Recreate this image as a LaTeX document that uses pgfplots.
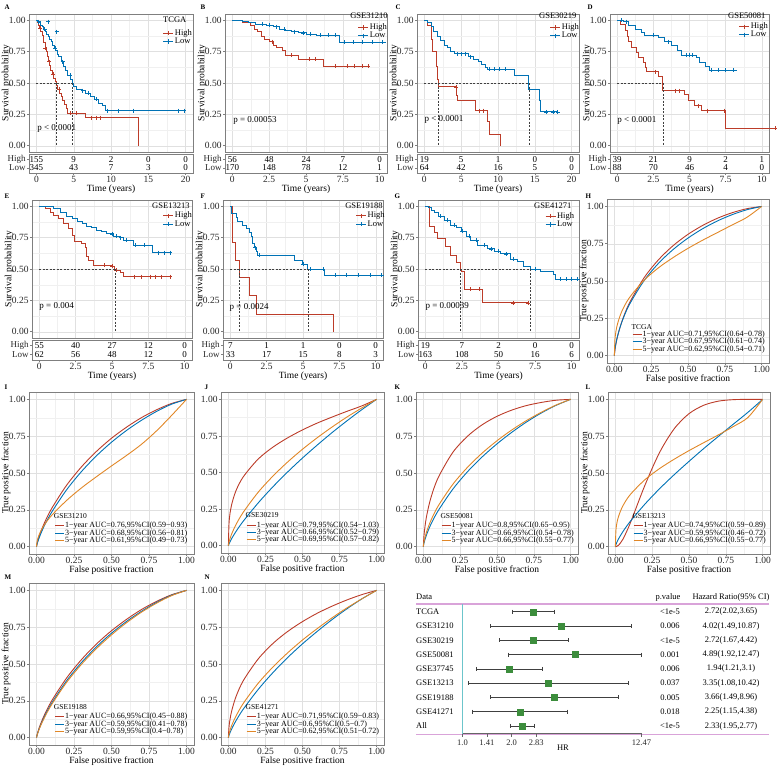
\documentclass[border=0pt]{standalone}
\usepackage{fontspec}
\setmainfont{Liberation Serif}
\usepackage{pgfplots}
\pgfplotsset{compat=1.18}
\definecolor{cR}{HTML}{BC3C29}
\definecolor{cB}{HTML}{0072B5}
\definecolor{cO}{HTML}{E18727}
\definecolor{cG}{HTML}{3C8D3C}
\definecolor{cPink}{HTML}{D9A3D9}
\definecolor{cCyan}{HTML}{6CC5CB}
\definecolor{frame}{HTML}{7F7F7F}
\newcommand\fs[1]{\fontsize{#1}{#1}\selectfont}
\newcommand\rk[3]{\node[font=\fs{9}] at (axis cs:#1,#2) {#3};}
\newcommand\lbl[2]{\node[font=\bfseries\fs{7}, anchor=north west] at (#1) {#2};}
\pgfplotsset{
 base/.style={scale only axis, anchor=north west, clip mode=individual,
  axis line style={frame, line width=0.6pt},
  every tick/.style={frame, line width=0.5pt},
  major tick length=2pt, minor tick length=0pt, tick align=outside,
  xtick pos=bottom, ytick pos=left,
  ticklabel style={font=\fs{9.5}, text=black!85},
  yticklabel style={inner sep=1.2pt}, xticklabel style={inner sep=1.2pt},
  label style={font=\fs{9.5}},
  ylabel style={at={(axis description cs:0,0.5)}, anchor=center, yshift=23pt},
  /pgf/number format/assume math mode=true,
  legend cell align=left,
  legend style={draw=none, fill=none, inner sep=0pt, outer sep=0pt, row sep=-1pt}},
 gridded/.style={grid=both, minor tick num=1,
  major grid style={black!12, line width=0.45pt},
  minor grid style={black!6, line width=0.3pt}},
 probticks/.style={ytick={0,0.25,0.5,0.75,1}, yticklabels={0.00,0.25,0.50,0.75,1.00}},
 km/.style={base, gridded, probticks, height=138pt, ymin=-0.05, ymax=1.05, clip=false,
  xticklabels={}, xtick style={draw=none},
  ylabel={Survival probability},
  legend style={font=\fs{8.5}, nodes={inner sep=1pt}},
  legend image code/.code={\draw[mark repeat=2,mark phase=2,#1] plot coordinates {(0pt,0pt) (5pt,0pt) (10pt,0pt)};}},
 risk/.style={base, ymin=0, ymax=1, ytick={0.27,0.73}, yticklabels={Low,High},
  yticklabel style={font=\fs{9}},
  xlabel={Time (years)}, xlabel style={inner sep=1pt}},
 roc/.style={base, gridded, probticks, xmin=-0.05, xmax=1.05, ymin=-0.05, ymax=1.05,
  xtick={0,0.25,0.5,0.75,1}, xticklabels={0.00,0.25,0.50,0.75,1.00},
  xlabel={False positive fraction}, xlabel style={inner sep=1pt},
  legend style={font=\fs{8}, at={(rel axis cs:0.155,0.2)}, anchor=north west, nodes={inner sep=0.7pt}},
  legend image code/.code={\draw[#1] (0pt,0pt) -- (9pt,0pt);}},
 kmR/.style={cR, line width=0.9pt, const plot, forget plot},
 kmB/.style={cB, line width=0.9pt, const plot, forget plot},
 cenR/.style={cR, only marks, mark=+, mark size=2pt, line width=0.5pt, forget plot},
 cenB/.style={cB, only marks, mark=+, mark size=2pt, line width=0.5pt, forget plot},
 med/.style={black!75, line width=0.5pt, dash pattern=on 2pt off 1.5pt, forget plot},
 rR/.style={cR, line width=0.9pt, smooth, tension=0.5},
 rB/.style={cB, line width=0.9pt, smooth, tension=0.5},
 rO/.style={cO, line width=0.9pt, smooth, tension=0.5},
 legR/.style={cR, line width=0.9pt, mark=+, mark size=2.2pt},
 legB/.style={cB, line width=0.9pt, mark=+, mark size=2.2pt},
}
\begin{document}
\begin{tikzpicture}[x=1pt,y=1pt]
\path[use as bounding box] (0,0) rectangle (777,-771);

% ================= A
\lbl{1pt,-1pt}{A}
\begin{axis}[km, at={(29pt,-14pt)}, width=164pt, xmin=-1, xmax=21, xtick={0,5,10,15,20},
  legend style={at={(rel axis cs:0.817,0.895)}, anchor=north west}]
\addlegendimage{legR}\addlegendentry{High}
\addlegendimage{legB}\addlegendentry{Low}
\addplot[kmR] coordinates {(0,1) (0.15,0.98) (0.3,0.96) (0.45,0.94) (0.6,0.91) (0.75,0.88) (0.9,0.85) (1.0,0.82) (1.15,0.78) (1.3,0.75) (1.45,0.71) (1.6,0.67) (1.75,0.64) (1.9,0.60) (2.1,0.57) (2.3,0.54) (2.5,0.51) (2.65,0.48) (2.85,0.45) (3.05,0.42) (3.3,0.39) (3.55,0.36) (3.8,0.33) (4.0,0.30) (4.2,0.26) (6.6,0.225) (13.7,0)};
\addplot[kmB] coordinates {(0,1) (0.2,0.99) (0.4,0.98) (0.6,0.96) (0.8,0.95) (1.0,0.93) (1.2,0.91) (1.4,0.89) (1.6,0.87) (1.8,0.85) (2.0,0.83) (2.2,0.80) (2.4,0.78) (2.6,0.76) (2.8,0.73) (3.0,0.71) (3.3,0.67) (3.6,0.63) (3.9,0.60) (4.2,0.56) (4.5,0.53) (4.8,0.50) (5.0,0.47) (5.4,0.45) (6.0,0.44) (6.6,0.42) (7.3,0.39) (7.8,0.37) (8.3,0.34) (8.8,0.32) (9.3,0.28) (19.8,0.28)};
\addplot[cenR] coordinates {(0.5,0.94) (1.2,0.78) (1.7,0.67) (2.2,0.57) (3.0,0.45) (4.6,0.26) (5.3,0.26) (7.3,0.225) (8.0,0.225) (8.6,0.225)};
\addplot[cenB] coordinates {(0.3,0.99) (1.1,0.93) (1.6,0.99) (2.5,0.78) (2.7,0.91) (3.5,0.67) (4.5,0.56) (6.2,0.44) (7.0,0.42) (8.0,0.37) (9.5,0.28) (11,0.28) (13,0.28) (19,0.28) (19.8,0.28)};
\addplot[med] coordinates {(0,0.5) (4.8,0.5)};
\addplot[med] coordinates {(2.6,0.5) (2.6,0)};
\addplot[med] coordinates {(4.8,0.5) (4.8,0)};
\node[anchor=west, font=\fs{8.5}, inner sep=0pt] at (rel axis cs:0.817,0.957) {TCGA};
\node[anchor=west, font=\fs{9}, inner sep=0pt] at (axis cs:0.1,0.14) {p < 0.0001};
\end{axis}
\begin{axis}[risk, at={(29pt,-154pt)}, width=164pt, height=19pt, xmin=-1, xmax=21, xtick={0,5,10,15,20}, xticklabels={0,5,10,15,20}]
\rk{0}{0.73}{155}\rk{5}{0.73}{9}\rk{10}{0.73}{2}\rk{15}{0.73}{0}\rk{20}{0.73}{0}
\rk{0}{0.27}{345}\rk{5}{0.27}{43}\rk{10}{0.27}{7}\rk{15}{0.27}{3}\rk{20}{0.27}{0}
\end{axis}

% ================= B
\lbl{197pt,-1pt}{B}
\begin{axis}[km, at={(225pt,-14pt)}, width=162pt, xmin=-0.5, xmax=10.5, xtick={0,2.5,5,7.5,10},
  legend style={at={(rel axis cs:0.821,0.935)}, anchor=north west}]
\addlegendimage{legR}\addlegendentry{High}
\addlegendimage{legB}\addlegendentry{Low}
\addplot[kmR] coordinates {(0,1) (0.7,0.98) (1.2,0.96) (1.5,0.93) (1.7,0.91) (2.0,0.87) (2.2,0.85) (2.5,0.83) (2.8,0.80) (3.0,0.78) (3.4,0.76) (3.6,0.72) (4.5,0.69) (6.2,0.635) (9.3,0.635)};
\addplot[kmB] coordinates {(0,1) (0.7,0.99) (1.1,0.98) (1.6,0.97) (2.3,0.96) (2.8,0.95) (3.2,0.93) (3.6,0.92) (4.0,0.91) (4.5,0.90) (5.0,0.89) (5.7,0.88) (7.3,0.825) (10.4,0.825)};
\addplot[cenR] coordinates {(2.7,0.83) (4.0,0.72) (5.2,0.69) (5.6,0.69) (7.0,0.635) (7.8,0.635) (8.3,0.635) (8.8,0.635) (9.2,0.635)};
\addplot[cenB] coordinates {(2.0,0.97) (2.5,0.96) (3.0,0.95) (3.5,0.93) (4.2,0.91) (4.8,0.90) (5.3,0.89) (6.0,0.88) (6.5,0.88) (7.0,0.88) (7.6,0.825) (8.2,0.825) (8.8,0.825) (9.5,0.825) (10.2,0.825)};
\node[anchor=west, font=\fs{8.5}, inner sep=0pt] at (rel axis cs:0.772,0.986) {GSE31210};
\node[anchor=west, font=\fs{9}, inner sep=0pt] at (axis cs:0.05,0.2) {p = 0.00053};
\end{axis}
\begin{axis}[risk, at={(225pt,-154pt)}, width=162pt, height=19pt, xmin=-0.5, xmax=10.5, xtick={0,2.5,5,7.5,10}, xticklabels={0,2.5,5,7.5,10}]
\rk{0}{0.73}{56}\rk{2.5}{0.73}{48}\rk{5}{0.73}{24}\rk{7.5}{0.73}{7}\rk{10}{0.73}{0}
\rk{0}{0.27}{170}\rk{2.5}{0.27}{148}\rk{5}{0.27}{78}\rk{7.5}{0.27}{12}\rk{10}{0.27}{1}
\end{axis}

% ================= C
\lbl{392pt,-1pt}{C}
\begin{axis}[km, at={(417pt,-14pt)}, width=162pt, xmin=-1, xmax=21, xtick={0,5,10,15,20},
  legend style={at={(rel axis cs:0.821,0.935)}, anchor=north west}]
\addlegendimage{legR}\addlegendentry{High}
\addlegendimage{legB}\addlegendentry{Low}
\addplot[kmR] coordinates {(0,1) (0.45,0.96) (0.9,0.85) (1.1,0.75) (1.6,0.73) (1.7,0.63) (1.8,0.53) (1.95,0.47) (4.3,0.40) (4.5,0.36) (7.0,0.28) (8.6,0.19) (8.8,0.09) (10.4,0)};
\addplot[kmB] coordinates {(0,1) (0.4,0.98) (0.9,0.95) (1.3,0.91) (1.8,0.87) (2.2,0.84) (2.7,0.80) (3.1,0.78) (3.6,0.75) (4.1,0.735) (6.0,0.71) (6.6,0.69) (7.3,0.67) (7.8,0.645) (8.3,0.62) (8.5,0.61) (12.2,0.56) (14.2,0.45) (15.6,0.36) (15.8,0.27) (18.1,0.27)};
\addplot[cenR] coordinates {(4.3,0.47) (7.5,0.28) (8.0,0.28)};
\addplot[cenB] coordinates {(4.5,0.735) (5.0,0.735) (5.5,0.735) (6.2,0.71) (8.8,0.61) (9.5,0.61) (10.2,0.61) (11,0.61) (14.3,0.45) (16.5,0.27) (17.5,0.27) (18.1,0.27)};
\addplot[med] coordinates {(0,0.5) (14.2,0.5)};
\addplot[med] coordinates {(1.95,0.5) (1.95,0)};
\addplot[med] coordinates {(14.2,0.5) (14.2,0)};
\node[anchor=west, font=\fs{8.5}, inner sep=0pt] at (rel axis cs:0.753,0.986) {GSE30219};
\node[anchor=west, font=\fs{9}, inner sep=0pt] at (axis cs:0,0.21) {p < 0.0001};
\end{axis}
\begin{axis}[risk, at={(417pt,-154pt)}, width=162pt, height=19pt, xmin=-1, xmax=21, xtick={0,5,10,15,20}, xticklabels={0,5,10,15,20}]
\rk{0}{0.73}{19}\rk{5}{0.73}{5}\rk{10}{0.73}{1}\rk{15}{0.73}{0}\rk{20}{0.73}{0}
\rk{0}{0.27}{64}\rk{5}{0.27}{42}\rk{10}{0.27}{16}\rk{15}{0.27}{5}\rk{20}{0.27}{0}
\end{axis}

% ================= D
\lbl{584pt,-1pt}{D}
\begin{axis}[km, at={(610pt,-14pt)}, width=159pt, xmin=-0.5, xmax=10.5, xtick={0,2.5,5,7.5,10},
  legend style={at={(rel axis cs:0.811,0.942)}, anchor=north west}]
\addlegendimage{legR}\addlegendentry{High}
\addlegendimage{legB}\addlegendentry{Low}
\addplot[kmR] coordinates {(0,1) (0.23,0.97) (0.57,0.92) (0.7,0.87) (0.8,0.83) (1.0,0.78) (1.36,0.74) (1.5,0.70) (1.8,0.66) (1.95,0.62) (2.05,0.59) (2.85,0.55) (3.1,0.50) (3.15,0.44) (4.65,0.41) (4.9,0.36) (5.35,0.32) (5.8,0.28) (7.5,0.14) (10.9,0.14)};
\addplot[kmB] coordinates {(0,1) (0.45,0.99) (0.8,0.96) (1.25,0.93) (1.7,0.90) (1.9,0.88) (2.85,0.86) (3.3,0.83) (3.75,0.80) (4.2,0.76) (4.45,0.72) (5.45,0.70) (5.7,0.66) (6.1,0.63) (6.35,0.60) (8.3,0.60)};
\addplot[cenR] coordinates {(2.6,0.59) (4.0,0.44) (4.3,0.44) (5.6,0.32) (6.2,0.28) (7.4,0.28) (10.9,0.14)};
\addplot[cenB] coordinates {(0.3,1.0) (0.6,0.99) (2.5,0.88) (3.5,0.83) (4.8,0.72) (5.0,0.72) (5.2,0.72) (6.5,0.60) (7.0,0.60) (7.5,0.60) (8.0,0.60)};
\addplot[med] coordinates {(0,0.5) (3.15,0.5)};
\addplot[med] coordinates {(3.15,0.5) (3.15,0)};
\node[anchor=west, font=\fs{8.5}, inner sep=0pt] at (rel axis cs:0.742,0.986) {GSE50081};
\node[anchor=west, font=\fs{9}, inner sep=0pt] at (axis cs:0,0.2) {p < 0.0001};
\end{axis}
\begin{axis}[risk, at={(610pt,-154pt)}, width=159pt, height=19pt, xmin=-0.5, xmax=10.5, xtick={0,2.5,5,7.5,10}, xticklabels={0,2.5,5,7.5,10}]
\rk{0}{0.73}{39}\rk{2.5}{0.73}{21}\rk{5}{0.73}{9}\rk{7.5}{0.73}{2}\rk{10}{0.73}{1}
\rk{0}{0.27}{88}\rk{2.5}{0.27}{70}\rk{5}{0.27}{46}\rk{7.5}{0.27}{4}\rk{10}{0.27}{0}
\end{axis}

% ================= E
\lbl{1pt,-190pt}{E}
\begin{axis}[km, at={(32pt,-200pt)}, width=160pt, xmin=-0.5, xmax=10.5, xtick={0,2.5,5,7.5,10},
  legend style={at={(rel axis cs:0.819,0.92)}, anchor=north west}]
\addlegendimage{legR}\addlegendentry{High}
\addlegendimage{legB}\addlegendentry{Low}
\addplot[kmR] coordinates {(0,1) (0.4,0.98) (0.75,0.95) (1.0,0.93) (1.3,0.90) (1.65,0.86) (2.0,0.82) (2.25,0.77) (2.45,0.72) (2.9,0.70) (3.15,0.67) (3.25,0.60) (3.4,0.57) (3.7,0.53) (4.95,0.52) (5.2,0.49) (5.55,0.47) (5.8,0.44) (9.0,0.44)};
\addplot[kmB] coordinates {(0,1) (1.0,0.98) (1.45,0.95) (1.9,0.92) (2.3,0.90) (2.6,0.88) (3.0,0.86) (3.25,0.84) (3.6,0.83) (3.95,0.81) (4.3,0.80) (4.6,0.78) (5.1,0.76) (5.5,0.75) (5.8,0.73) (6.45,0.69) (7.8,0.63) (9.0,0.63)};
\addplot[cenR] coordinates {(4.5,0.53) (5.0,0.52) (5.3,0.49) (6.5,0.44) (7.0,0.44) (7.6,0.44) (8.0,0.44) (8.4,0.44) (9.0,0.44)};
\addplot[cenB] coordinates {(5.0,0.78) (5.3,0.76) (5.6,0.75) (6.0,0.73) (6.6,0.69) (7.2,0.69) (8.2,0.63) (8.6,0.63) (9.0,0.63)};
\addplot[med] coordinates {(0,0.5) (5.2,0.5)};
\addplot[med] coordinates {(5.2,0.5) (5.2,0)};
\node[anchor=west, font=\fs{8.5}, inner sep=0pt] at (rel axis cs:0.75,0.957) {GSE13213};
\node[anchor=west, font=\fs{9}, inner sep=0pt] at (axis cs:0,0.2) {p = 0.004};
\end{axis}
\begin{axis}[risk, at={(32pt,-340pt)}, width=160pt, height=20pt, xmin=-0.5, xmax=10.5, xtick={0,2.5,5,7.5,10}, xticklabels={0,2.5,5,7.5,10}]
\rk{0}{0.73}{55}\rk{2.5}{0.73}{40}\rk{5}{0.73}{27}\rk{7.5}{0.73}{12}\rk{10}{0.73}{0}
\rk{0}{0.27}{62}\rk{2.5}{0.27}{56}\rk{5}{0.27}{48}\rk{7.5}{0.27}{12}\rk{10}{0.27}{0}
\end{axis}

% ================= F
\lbl{197pt,-190pt}{F}
\begin{axis}[km, at={(223pt,-200pt)}, width=160pt, xmin=-0.5, xmax=10.5, xtick={0,2.5,5,7.5,10},
  legend style={at={(rel axis cs:0.83,0.92)}, anchor=north west}]
\addlegendimage{legR}\addlegendentry{High}
\addlegendimage{legB}\addlegendentry{Low}
\addplot[kmR] coordinates {(0,1) (0.15,0.71) (0.35,0.57) (0.6,0.43) (1.3,0.29) (1.8,0.14) (7.1,0)};
\addplot[kmB] coordinates {(0,1) (0.07,0.94) (0.4,0.91) (0.5,0.88) (0.85,0.85) (1.1,0.82) (1.3,0.79) (1.45,0.76) (1.55,0.70) (1.65,0.67) (1.8,0.64) (1.9,0.61) (4.4,0.57) (4.95,0.54) (5.3,0.50) (6.5,0.45) (10.4,0.45)};
\addplot[cenB] coordinates {(1.7,0.67) (2.0,0.61) (5.0,0.54) (5.5,0.50) (6.4,0.50) (7.2,0.45) (8.0,0.45) (8.8,0.45) (9.6,0.45) (10.4,0.45)};
\addplot[med] coordinates {(0,0.5) (5.35,0.5)};
\addplot[med] coordinates {(0.6,0.5) (0.6,0)};
\addplot[med] coordinates {(5.35,0.5) (5.35,0)};
\node[anchor=west, font=\fs{8.5}, inner sep=0pt] at (rel axis cs:0.763,0.957) {GSE19188};
\node[anchor=west, font=\fs{9}, inner sep=0pt] at (axis cs:-0.05,0.19) {p = 0.0024};
\end{axis}
\begin{axis}[risk, at={(223pt,-340pt)}, width=160pt, height=20pt, xmin=-0.5, xmax=10.5, xtick={0,2.5,5,7.5,10}, xticklabels={0,2.5,5,7.5,10}]
\rk{0}{0.73}{7}\rk{2.5}{0.73}{1}\rk{5}{0.73}{1}\rk{7.5}{0.73}{0}\rk{10}{0.73}{0}
\rk{0}{0.27}{33}\rk{2.5}{0.27}{17}\rk{5}{0.27}{15}\rk{7.5}{0.27}{8}\rk{10}{0.27}{3}
\end{axis}

% ================= G
\lbl{391pt,-190pt}{G}
\begin{axis}[km, at={(418pt,-200pt)}, width=161pt, xmin=-0.5, xmax=10.5, xtick={0,2.5,5,7.5,10},
  legend style={at={(rel axis cs:0.79,0.917)}, anchor=north west}]
\addlegendimage{legR}\addlegendentry{High}
\addlegendimage{legB}\addlegendentry{Low}
\addplot[kmR] coordinates {(0,1) (0.3,0.84) (0.63,0.79) (0.85,0.74) (1.4,0.68) (1.75,0.61) (2.1,0.55) (2.4,0.50) (2.45,0.48) (2.7,0.34) (3.9,0.23) (7.0,0.23)};
\addplot[kmB] coordinates {(0,1) (0.2,0.99) (0.4,0.97) (0.63,0.95) (0.9,0.92) (1.3,0.89) (1.75,0.85) (2.1,0.83) (2.45,0.80) (2.8,0.76) (3.1,0.73) (3.55,0.69) (4.25,0.66) (4.7,0.64) (5.15,0.62) (5.8,0.58) (6.3,0.56) (6.7,0.52) (7.2,0.50) (7.85,0.48) (8.75,0.46) (8.9,0.42) (10.45,0.42)};
\addplot[cenR] coordinates {(3.1,0.34) (3.7,0.34) (6.0,0.23) (7.0,0.23)};
\addplot[cenB] coordinates {(1.0,0.92) (1.5,0.89) (2.0,0.85) (2.5,0.80) (3.0,0.76) (3.5,0.73) (4.0,0.69) (4.5,0.66) (5.0,0.64) (5.5,0.62) (6.0,0.58) (7.5,0.50) (9.2,0.42) (9.6,0.42) (10.0,0.42) (10.4,0.42)};
\addplot[med] coordinates {(0,0.5) (7.2,0.5)};
\addplot[med] coordinates {(2.4,0.5) (2.4,0)};
\addplot[med] coordinates {(7.2,0.5) (7.2,0)};
\node[anchor=west, font=\fs{8.5}, inner sep=0pt] at (rel axis cs:0.72,0.957) {GSE41271};
\node[anchor=west, font=\fs{9}, inner sep=0pt] at (axis cs:0,0.2) {p = 0.00039};
\end{axis}
\begin{axis}[risk, at={(418pt,-340pt)}, width=161pt, height=20pt, xmin=-0.5, xmax=10.5, xtick={0,2.5,5,7.5,10}, xticklabels={0,2.5,5,7.5,10}]
\rk{0}{0.73}{19}\rk{2.5}{0.73}{7}\rk{5}{0.73}{2}\rk{7.5}{0.73}{0}\rk{10}{0.73}{0}
\rk{0}{0.27}{163}\rk{2.5}{0.27}{108}\rk{5}{0.27}{50}\rk{7.5}{0.27}{16}\rk{10}{0.27}{6}
\end{axis}

% ================= H
\lbl{582pt,-190pt}{H}
\begin{axis}[roc, at={(607pt,-199pt)}, width=162pt, height=164pt, ylabel={True positive fraction}]
\addplot[rR] coordinates {(0,0) (0.005,0.046) (0.02,0.122) (0.05,0.225) (0.1,0.348) (0.2,0.519) (0.3,0.643) (0.4,0.738) (0.5,0.813) (0.6,0.873) (0.7,0.921) (0.8,0.958) (0.9,0.985) (1,1)};
\addlegendentry{1−year AUC=0.71,95\%CI(0.64−0.78)}
\addplot[rB] coordinates {(0,0) (0.005,0.050) (0.02,0.125) (0.05,0.223) (0.1,0.338) (0.2,0.5) (0.3,0.619) (0.4,0.712) (0.5,0.788) (0.6,0.851) (0.7,0.903) (0.8,0.945) (0.9,0.978) (1,1)};
\addlegendentry{3−year AUC=0.67,95\%CI(0.61−0.74)}
\addplot[rO] coordinates {(0,0) (0.005,0.121) (0.02,0.207) (0.05,0.295) (0.1,0.385) (0.2,0.503) (0.3,0.589) (0.4,0.658) (0.5,0.719) (0.6,0.774) (0.7,0.825) (0.8,0.876) (0.9,0.927) (1,1)};
\addlegendentry{5−year AUC=0.62,95\%CI(0.54−0.71)}
\node[anchor=west, font=\fs{7.5}, inner sep=0pt] at (rel axis cs:0.15,0.222) {TCGA};
\end{axis}

% ================= I
\lbl{1pt,-381pt}{I}
\begin{axis}[roc, at={(29pt,-392pt)}, width=165pt, height=162pt, ylabel={True positive fraction}]
\addplot[rR] coordinates {(0,0) (0.005,0.026) (0.02,0.077) (0.05,0.155) (0.1,0.257) (0.2,0.416) (0.3,0.542) (0.4,0.647) (0.5,0.736) (0.6,0.811) (0.7,0.876) (0.8,0.929) (0.9,0.972) (1,1)};
\addlegendentry{1−year AUC=0.76,95\%CI(0.59−0.93)}
\addplot[rB] coordinates {(0,0) (0.005,0.021) (0.02,0.066) (0.05,0.137) (0.1,0.232) (0.2,0.385) (0.3,0.510) (0.4,0.617) (0.5,0.709) (0.6,0.789) (0.7,0.858) (0.8,0.918) (0.9,0.967) (1,1)};
\addlegendentry{3−year AUC=0.68,95\%CI(0.56−0.81)}
\addplot[rO] coordinates {(0,0) (0.005,0.041) (0.02,0.087) (0.05,0.144) (0.1,0.211) (0.2,0.313) (0.3,0.399) (0.4,0.475) (0.5,0.548) (0.6,0.619) (0.7,0.695) (0.8,0.786) (0.9,0.89) (1,1)};
\addlegendentry{5−year AUC=0.61,95\%CI(0.49−0.73)}
\node[anchor=west, font=\fs{7.5}, inner sep=0pt] at (rel axis cs:0.15,0.235) {GSE31210};
\end{axis}

% ================= J
\lbl{201pt,-381pt}{J}
\begin{axis}[roc, at={(221pt,-392pt)}, width=163pt, height=161pt]
\addplot[rR] coordinates {(0,0) (0.005,0.167) (0.02,0.272) (0.05,0.373) (0.1,0.470) (0.2,0.591) (0.3,0.673) (0.4,0.737) (0.5,0.791) (0.6,0.838) (0.7,0.879) (0.8,0.918) (0.9,0.955) (1,1)};
\addlegendentry{1−year AUC=0.79,95\%CI(0.54−1.03)}
\addplot[rB] coordinates {(0,0) (0.005,0.014) (0.02,0.045) (0.05,0.095) (0.1,0.167) (0.2,0.291) (0.3,0.402) (0.4,0.504) (0.5,0.599) (0.6,0.688) (0.7,0.773) (0.8,0.853) (0.9,0.929) (1,1)};
\addlegendentry{3−year AUC=0.66,95\%CI(0.52−0.79)}
\addplot[rO] coordinates {(0,0) (0.005,0.028) (0.02,0.075) (0.05,0.142) (0.1,0.228) (0.2,0.364) (0.3,0.475) (0.4,0.572) (0.5,0.659) (0.6,0.738) (0.7,0.811) (0.8,0.879) (0.9,0.941) (1,1)};
\addlegendentry{5−year AUC=0.69,95\%CI(0.57−0.82)}
\node[anchor=west, font=\fs{7.5}, inner sep=0pt] at (rel axis cs:0.15,0.235) {GSE30219};
\end{axis}

% ================= K
\lbl{391pt,-381pt}{K}
\begin{axis}[roc, at={(416pt,-392pt)}, width=162pt, height=162pt]
\addplot[rR] coordinates {(0,0) (0.005,0.084) (0.02,0.197) (0.05,0.328) (0.1,0.467) (0.2,0.640) (0.3,0.750) (0.4,0.828) (0.5,0.885) (0.6,0.927) (0.7,0.958) (0.8,0.979) (0.9,0.994) (1,1)};
\addlegendentry{1−year AUC=0.8,95\%CI(0.65−0.95)}
\addplot[rB] coordinates {(0,0) (0.005,0.027) (0.02,0.076) (0.05,0.149) (0.1,0.243) (0.2,0.390) (0.3,0.509) (0.4,0.610) (0.5,0.698) (0.6,0.776) (0.7,0.846) (0.8,0.907) (0.9,0.959) (1,1)};
\addlegendentry{3−year AUC=0.66,95\%CI(0.54−0.78)}
\addplot[rO] coordinates {(0,0) (0.005,0.037) (0.02,0.095) (0.05,0.175) (0.1,0.275) (0.2,0.423) (0.3,0.539) (0.4,0.636) (0.5,0.719) (0.6,0.792) (0.7,0.856) (0.8,0.912) (0.9,0.961) (1,1)};
\addlegendentry{5−year AUC=0.66,95\%CI(0.55−0.77)}
\node[anchor=west, font=\fs{7.5}, inner sep=0pt] at (rel axis cs:0.15,0.235) {GSE50081};
\end{axis}

% ================= L
\lbl{582pt,-381pt}{L}
\begin{axis}[roc, at={(608pt,-392pt)}, width=162pt, height=162pt, ylabel={True positive fraction}]
\addplot[rR] coordinates {(0,0) (0.005,0.0004) (0.02,0.008) (0.05,0.048) (0.1,0.157) (0.2,0.415) (0.3,0.639) (0.4,0.801) (0.5,0.903) (0.6,0.960) (0.7,0.988) (0.8,0.998) (0.9,1.0) (1,1)};
\addlegendentry{1−year AUC=0.74,95\%CI(0.59−0.89)}
\addplot[rB] coordinates {(0,0) (0.005,0.017) (0.02,0.050) (0.05,0.100) (0.1,0.170) (0.2,0.288) (0.3,0.393) (0.4,0.489) (0.5,0.579) (0.6,0.666) (0.7,0.749) (0.8,0.831) (0.9,0.912) (1,1)};
\addlegendentry{3−year AUC=0.59,95\%CI(0.46−0.72)}
\addplot[rO] coordinates {(0,0) (0.005,0.124) (0.02,0.200) (0.05,0.275) (0.1,0.352) (0.2,0.454) (0.3,0.530) (0.4,0.594) (0.5,0.652) (0.6,0.706) (0.7,0.759) (0.8,0.815) (0.9,0.877) (1,1)};
\addlegendentry{5−year AUC=0.66,95\%CI(0.55−0.77)}
\node[anchor=west, font=\fs{7.5}, inner sep=0pt] at (rel axis cs:0.15,0.235) {GSE13213};
\end{axis}

% ================= M
\lbl{1pt,-571pt}{M}
\begin{axis}[roc, at={(29pt,-583pt)}, width=165pt, height=162pt, ylabel={True positive fraction}]
\addplot[rR] coordinates {(0,0) (0.005,0.024) (0.02,0.073) (0.05,0.148) (0.1,0.248) (0.2,0.404) (0.3,0.530) (0.4,0.636) (0.5,0.726) (0.6,0.803) (0.7,0.870) (0.8,0.925) (0.9,0.970) (1,1)};
\addlegendentry{1−year AUC=0.66,95\%CI(0.45−0.88)}
\addplot[rB] coordinates {(0,0) (0.005,0.021) (0.02,0.066) (0.05,0.137) (0.1,0.232) (0.2,0.385) (0.3,0.510) (0.4,0.617) (0.5,0.709) (0.6,0.789) (0.7,0.858) (0.8,0.918) (0.9,0.967) (1,1)};
\addlegendentry{3−year AUC=0.59,95\%CI(0.41−0.78)}
\addplot[rO] coordinates {(0,0) (0.005,0.020) (0.02,0.063) (0.05,0.130) (0.1,0.223) (0.2,0.374) (0.3,0.498) (0.4,0.605) (0.5,0.698) (0.6,0.780) (0.7,0.852) (0.8,0.913) (0.9,0.964) (1,1)};
\addlegendentry{5−year AUC=0.59,95\%CI(0.4−0.78)}
\node[anchor=west, font=\fs{7.5}, inner sep=0pt] at (rel axis cs:0.15,0.235) {GSE19188};
\end{axis}

% ================= N
\lbl{201pt,-571pt}{N}
\begin{axis}[roc, at={(221pt,-583pt)}, width=163pt, height=162pt]
\addplot[rR] coordinates {(0,0) (0.005,0.082) (0.02,0.172) (0.05,0.275) (0.1,0.386) (0.2,0.533) (0.3,0.639) (0.4,0.721) (0.5,0.788) (0.6,0.845) (0.7,0.893) (0.8,0.935) (0.9,0.971) (1,1)};
\addlegendentry{1−year AUC=0.71,95\%CI(0.59−0.83)}
\addplot[rB] coordinates {(0,0) (0.005,0.018) (0.02,0.055) (0.05,0.113) (0.1,0.193) (0.2,0.326) (0.3,0.441) (0.4,0.544) (0.5,0.637) (0.6,0.722) (0.7,0.802) (0.8,0.875) (0.9,0.942) (1,1)};
\addlegendentry{3−year AUC=0.6,95\%CI(0.5−0.7)}
\addplot[rO] coordinates {(0,0) (0.005,0.029) (0.02,0.077) (0.05,0.144) (0.1,0.232) (0.2,0.368) (0.3,0.479) (0.4,0.576) (0.5,0.663) (0.6,0.741) (0.7,0.814) (0.8,0.881) (0.9,0.942) (1,1)};
\addlegendentry{5−year AUC=0.62,95\%CI(0.51−0.72)}
\node[anchor=west, font=\fs{7.5}, inner sep=0pt] at (rel axis cs:0.15,0.235) {GSE41271};
\end{axis}

% ================= Forest
\draw[cPink, line width=1.3pt] (416,-604) -- (769,-604);
\draw[cPink, line width=1.3pt] (416,-734.5) -- (769,-734.5);
\begin{axis}[scale only axis, anchor=north west, at={(462.5pt,-604pt)}, width=179pt, height=129.7pt,
  xmode=log, xmin=1, xmax=12.47, ymin=0.46, ymax=9.54, y dir=reverse,
  axis x line=bottom, axis y line=none, x axis line style={-, black!60, line width=0.9pt},
  xtick={1,1.41,2,2.83,12.47}, xticklabels={1.0,1.41,2.0,2.83,12.47},
  tick align=outside, major tick length=3pt, every tick/.style={black!60, line width=0.6pt},
  ticklabel style={font=\fs{8.5}, text=black!85}, minor xtick={}, clip=false]
\addplot[cCyan, line width=0.8pt] coordinates {(1,0.46) (1,9.54)};
\addplot[black!75, line width=0.6pt, mark=|, mark size=2pt] coordinates {(2.02,1) (3.65,1)};
\addplot[black!75, line width=0.6pt, mark=|, mark size=2pt] coordinates {(1.49,2) (10.87,2)};
\addplot[black!75, line width=0.6pt, mark=|, mark size=2pt] coordinates {(1.67,3) (4.42,3)};
\addplot[black!75, line width=0.6pt, mark=|, mark size=2pt] coordinates {(1.92,4) (12.47,4)};
\addplot[black!75, line width=0.6pt, mark=|, mark size=2pt] coordinates {(1.21,5) (3.1,5)};
\addplot[black!75, line width=0.6pt, mark=|, mark size=2pt] coordinates {(1.08,6) (10.42,6)};
\addplot[black!75, line width=0.6pt, mark=|, mark size=2pt] coordinates {(1.49,7) (8.96,7)};
\addplot[black!75, line width=0.6pt, mark=|, mark size=2pt] coordinates {(1.15,8) (4.38,8)};
\addplot[black!75, line width=0.6pt, mark=|, mark size=2pt] coordinates {(1.95,9) (2.77,9)};
\addplot[only marks, mark=square*, mark size=3pt, cG] coordinates {(2.72,1) (4.02,2) (2.72,3) (4.89,4) (1.94,5) (3.35,6) (3.66,7) (2.25,8) (2.33,9)};
\end{axis}
\node[font=\fs{8.5}] at (563,-748) {HR};
\begin{scope}[every node/.style={font=\fs{8.5}, inner sep=0pt}]
\node[anchor=west] at (416,-597) {Data};
\node at (668,-597) {p.value};
\node at (731,-597) {Hazard Ratio(95\% CI)};
\foreach \y/\n/\p/\h in {611.7/TCGA/<1e-5/{2.72(2.02,3.65)}, 626.0/GSE31210/0.006/{4.02(1.49,10.87)}, 640.3/GSE30219/<1e-5/{2.72(1.67,4.42)}, 654.6/GSE50081/0.001/{4.89(1.92,12.47)}, 668.9/GSE37745/0.006/{1.94(1.21,3.1)}, 683.2/GSE13213/0.037/{3.35(1.08,10.42)}, 697.4/GSE19188/0.005/{3.66(1.49,8.96)}, 711.7/GSE41271/0.018/{2.25(1.15,4.38)}, 726.0/All/<1e-5/{2.33(1.95,2.77)}}{
  \node[anchor=west] at (416,-\y) {\n};
  \node at (670,-\y) {\p};
  \node at (731,-\y) {\h};
}
\end{scope}
\end{tikzpicture}
\end{document}
